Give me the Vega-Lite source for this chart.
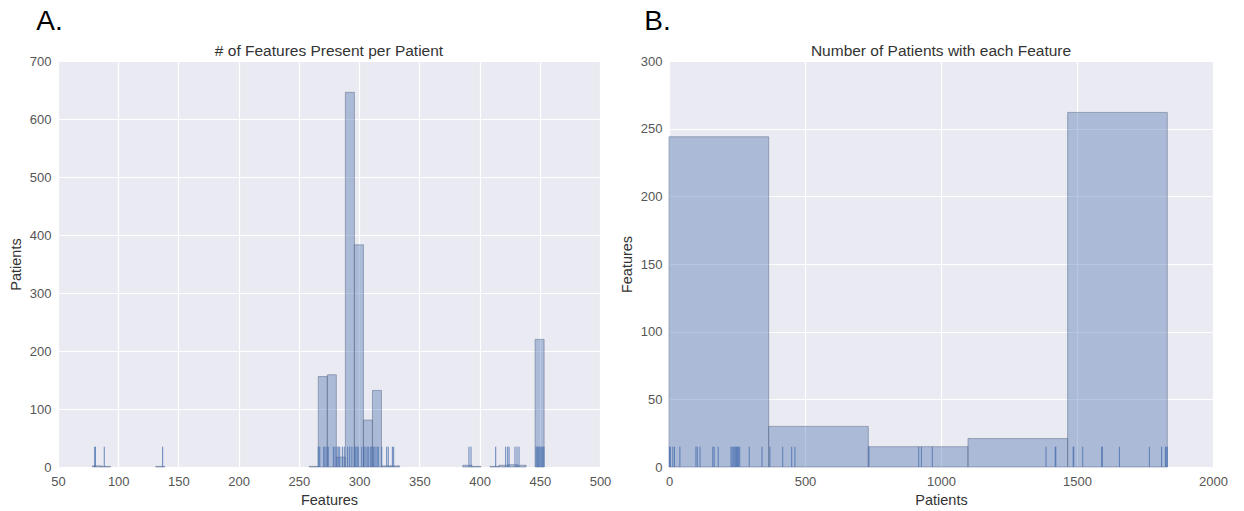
{
  "$schema": "https://vega.github.io/schema/vega-lite/v6.json",
  "background": "white",
  "padding": {"left": 8, "top": 7, "right": 5, "bottom": 5},
  "spacing": 8,
  "datasets": {
    "barsA": [
      {"bin_start": 78.6, "bin_end": 86.1, "count": 2},
      {"bin_start": 86.1, "bin_end": 93.6, "count": 1},
      {"bin_start": 131.1, "bin_end": 138.6, "count": 1},
      {"bin_start": 258.6, "bin_end": 266.1, "count": 1},
      {"bin_start": 266.1, "bin_end": 273.6, "count": 156},
      {"bin_start": 273.6, "bin_end": 281.1, "count": 159},
      {"bin_start": 281.1, "bin_end": 288.6, "count": 17},
      {"bin_start": 288.6, "bin_end": 296.1, "count": 646},
      {"bin_start": 296.1, "bin_end": 303.6, "count": 383},
      {"bin_start": 303.6, "bin_end": 311.1, "count": 81},
      {"bin_start": 311.1, "bin_end": 318.6, "count": 132},
      {"bin_start": 318.6, "bin_end": 326.1, "count": 2},
      {"bin_start": 326.1, "bin_end": 333.6, "count": 2},
      {"bin_start": 386.1, "bin_end": 393.6, "count": 3},
      {"bin_start": 393.6, "bin_end": 401.1, "count": 1},
      {"bin_start": 408.6, "bin_end": 416.1, "count": 1},
      {"bin_start": 416.1, "bin_end": 423.6, "count": 3},
      {"bin_start": 423.6, "bin_end": 431.1, "count": 4},
      {"bin_start": 431.1, "bin_end": 438.6, "count": 3},
      {"bin_start": 446.1, "bin_end": 453.6, "count": 220}
    ],
    "rugA": [
      {"features": 80.5}, {"features": 81.0}, {"features": 88.4}, {"features": 136.9},
      {"features": 266.1}, {"features": 267.3}, {"features": 270.6}, {"features": 271.7},
      {"features": 273.3}, {"features": 274.4}, {"features": 278.6}, {"features": 280.0},
      {"features": 281.6}, {"features": 282.7}, {"features": 283.9}, {"features": 286.1},
      {"features": 287.7}, {"features": 290.5}, {"features": 292.2}, {"features": 294.0},
      {"features": 296.0}, {"features": 297.2}, {"features": 298.3}, {"features": 299.3},
      {"features": 302.2}, {"features": 303.8}, {"features": 304.9}, {"features": 306.6},
      {"features": 307.6}, {"features": 309.3}, {"features": 310.5}, {"features": 312.1},
      {"features": 313.2}, {"features": 314.9}, {"features": 315.9}, {"features": 318.8},
      {"features": 322.9}, {"features": 324.2}, {"features": 327.6}, {"features": 328.7},
      {"features": 391.2}, {"features": 392.9}, {"features": 413.4}, {"features": 421.7},
      {"features": 423.4}, {"features": 424.5}, {"features": 429.4}, {"features": 431.1},
      {"features": 432.8}, {"features": 446.9}, {"features": 447.8}, {"features": 448.5},
      {"features": 449.3}, {"features": 450.2}, {"features": 451.1}, {"features": 451.9},
      {"features": 452.7}, {"features": 453.5}
    ],
    "barsB": [
      {"bin_start": 0, "bin_end": 366.4, "count": 244},
      {"bin_start": 366.4, "bin_end": 732.8, "count": 30},
      {"bin_start": 732.8, "bin_end": 1099.2, "count": 15},
      {"bin_start": 1099.2, "bin_end": 1465.6, "count": 21},
      {"bin_start": 1465.6, "bin_end": 1832, "count": 262}
    ],
    "rugB": [
      {"patients": 2}, {"patients": 5}, {"patients": 14}, {"patients": 20}, {"patients": 40},
      {"patients": 99}, {"patients": 104}, {"patients": 114}, {"patients": 161}, {"patients": 166},
      {"patients": 181}, {"patients": 228}, {"patients": 232}, {"patients": 236}, {"patients": 240},
      {"patients": 244}, {"patients": 248}, {"patients": 252}, {"patients": 256}, {"patients": 260},
      {"patients": 295}, {"patients": 342}, {"patients": 371}, {"patients": 418}, {"patients": 451},
      {"patients": 463}, {"patients": 735}, {"patients": 918}, {"patients": 928}, {"patients": 968},
      {"patients": 1386}, {"patients": 1420}, {"patients": 1422}, {"patients": 1486}, {"patients": 1488},
      {"patients": 1521}, {"patients": 1591}, {"patients": 1593}, {"patients": 1656}, {"patients": 1766},
      {"patients": 1811}, {"patients": 1825}, {"patients": 1828}, {"patients": 1832}
    ]
  },
  "hconcat": [
    {
      "title": {"text": "A.", "anchor": "start", "fontSize": 28, "font": "Liberation Sans", "fontWeight": "normal", "color": "black", "dx": 28, "dy": -1, "offset": 7},
      "vconcat": [
        {
          "width": 542,
          "height": 406,
          "title": {"text": "# of Features Present per Patient", "fontSize": 15.5, "font": "Liberation Sans", "fontWeight": "normal", "color": "#333", "offset": -4},
          "layer": [
            {
              "data": {"name": "barsA"},
              "mark": {"type": "rect", "fill": "#4C72B0", "fillOpacity": 0.4, "stroke": "#5a6a88", "strokeOpacity": 0.5, "strokeWidth": 1},
              "encoding": {
                "x": {"field": "bin_start", "type": "quantitative", "scale": {"domain": [50, 500], "nice": false, "zero": false}, "axis": {"values": [50, 100, 150, 200, 250, 300, 350, 400, 450, 500], "format": "d", "title": "Features"}},
                "x2": {"field": "bin_end"},
                "y": {"field": "count", "type": "quantitative", "scale": {"domain": [0, 700], "nice": false}, "axis": {"values": [0, 100, 200, 300, 400, 500, 600, 700], "format": "d", "title": "Patients"}},
                "y2": {"datum": 0}
              }
            },
            {
              "data": {"name": "rugA"},
              "mark": {"type": "rule", "color": "#4C72B0", "strokeWidth": 1, "opacity": 0.85},
              "encoding": {
                "x": {"field": "features", "type": "quantitative"},
                "y": {"datum": 0},
                "y2": {"datum": 35}
              }
            }
          ]
        }
      ]
    },
    {
      "title": {"text": "B.", "anchor": "start", "fontSize": 28, "font": "Liberation Sans", "fontWeight": "normal", "color": "black", "dx": 25, "dy": -1, "offset": 7},
      "vconcat": [
        {
          "width": 544,
          "height": 406,
          "title": {"text": "Number of Patients with each Feature", "fontSize": 15.5, "font": "Liberation Sans", "fontWeight": "normal", "color": "#333", "offset": -4},
          "layer": [
            {
              "data": {"name": "barsB"},
              "mark": {"type": "rect", "fill": "#4C72B0", "fillOpacity": 0.4, "stroke": "#5a6a88", "strokeOpacity": 0.5, "strokeWidth": 1},
              "encoding": {
                "x": {"field": "bin_start", "type": "quantitative", "scale": {"domain": [0, 2000], "nice": false}, "axis": {"values": [0, 500, 1000, 1500, 2000], "format": "d", "title": "Patients"}},
                "x2": {"field": "bin_end"},
                "y": {"field": "count", "type": "quantitative", "scale": {"domain": [0, 300], "nice": false}, "axis": {"values": [0, 50, 100, 150, 200, 250, 300], "format": "d", "title": "Features"}},
                "y2": {"datum": 0}
              }
            },
            {
              "data": {"name": "rugB"},
              "mark": {"type": "rule", "color": "#4C72B0", "strokeWidth": 1, "opacity": 0.85},
              "encoding": {
                "x": {"field": "patients", "type": "quantitative"},
                "y": {"datum": 0},
                "y2": {"datum": 15}
              }
            }
          ]
        }
      ]
    }
  ],
  "config": {
    "view": {"fill": "#EAEAF2", "stroke": null},
    "axis": {
      "grid": true, "gridColor": "white", "gridWidth": 1.2, "domain": false, "ticks": false,
      "labelFont": "Liberation Sans", "labelFontSize": 13, "labelColor": "#555", "labelPadding": 7,
      "labelFlush": false,
      "titleFont": "Liberation Sans", "titleFontSize": 14.5, "titleColor": "#333", "titleFontWeight": "normal", "titlePadding": 6
    },
    "axisX": {"labelPadding": 8, "titlePadding": 5}
  }
}
